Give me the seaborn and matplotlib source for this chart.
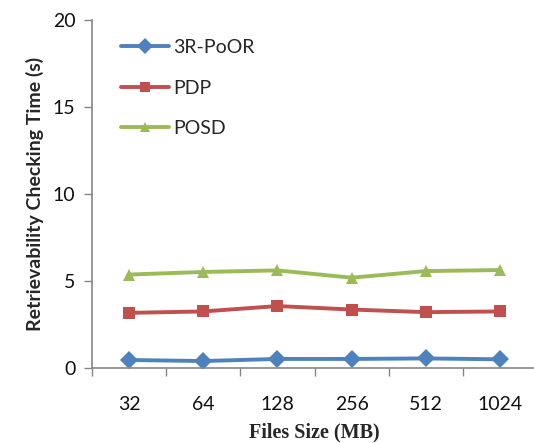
import pandas as pd
import seaborn as sns
import matplotlib.pyplot as plt

# datos
sizes = ['32', '64', '128', '256', '512', '1024']
poor_3r = [0.46, 0.40, 0.52, 0.52, 0.55, 0.50]
pdp = [3.17, 3.25, 3.56, 3.36, 3.21, 3.25]
posd = [5.37, 5.52, 5.61, 5.19, 5.57, 5.63]
methods = ['3R-PoOR', 'PDP', 'POSD']

df = pd.DataFrame({
    'size': sizes * 3,
    'time': poor_3r + pdp + posd,
    'method': [m for m in methods for _ in sizes],
})

sns.set_theme(style="white")
plt.rcParams['font.family'] = ['Lato', 'DejaVu Sans']

fig = plt.figure(figsize=(5.34, 4.43), dpi=100)
ax = fig.add_axes([92 / 534, 1 - 368 / 443, 445 / 534, 348 / 443])

colores = ['#4F81BD', '#C0504D', '#9BBB59']
sns.lineplot(data=df, x='size', y='time', hue='method', style='method',
             markers=['D', 's', '^'], dashes=False, palette=colores,
             linewidth=2.8, markersize=9, markeredgewidth=0, ax=ax)

ax.set_xlim(-0.5, 5.5)
ax.set_ylim(0, 20)
ax.set_yticks([0, 5, 10, 15, 20])
ax.set_xticks(range(len(sizes)))
ax.set_xticklabels(sizes)
ax.set_xticks([i - 0.5 for i in range(len(sizes) + 1)], minor=True)
ax.tick_params(axis='x', which='major', length=0, pad=20, labelsize=14, colors='#111111')
ax.tick_params(axis='x', which='minor', length=6, width=1, color='#868686', direction='out', bottom=True)
ax.tick_params(axis='y', length=6, width=1, color='#868686', direction='out', left=True, labelsize=14, pad=6, colors='#111111')

for s in ['top', 'right']:
    ax.spines[s].set_visible(False)
for s in ['left', 'bottom']:
    ax.spines[s].set_color('#868686')
    ax.spines[s].set_linewidth(1.2)

ax.set_ylabel('Retrievability Checking Time (s)', fontsize=14, fontweight='bold', labelpad=6)
ax.set_xlabel('Files Size (MB)', fontsize=14.5, fontweight='bold', family='Liberation Serif', labelpad=7)

leg = ax.legend(loc='upper left', bbox_to_anchor=(0.025, 0.995), frameon=False,
                fontsize=14, handlelength=2.5, labelspacing=1.2, handletextpad=0.2,
                markerscale=0.85)

fig.savefig('out.png', dpi=100)
